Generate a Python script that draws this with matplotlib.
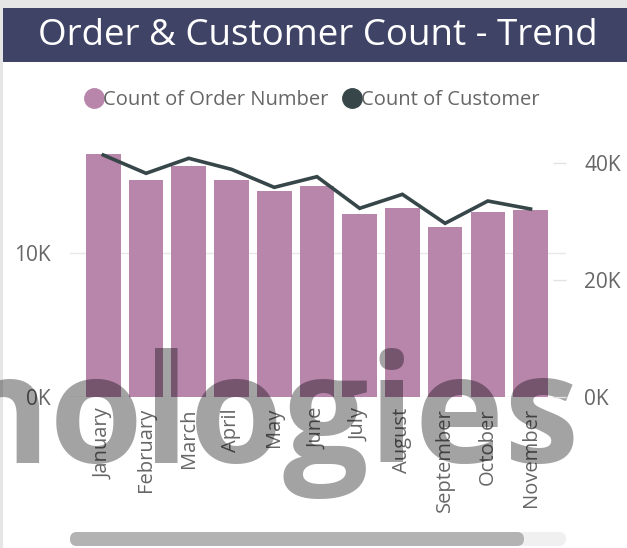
import matplotlib
matplotlib.use("Agg")
import matplotlib.pyplot as plt
from matplotlib.lines import Line2D
from matplotlib.patches import Rectangle, FancyBboxPatch
from matplotlib.transforms import IdentityTransform

months = ["January", "February", "March", "April", "May", "June", "July",
          "August", "September", "October", "November"]
order_counts = [16880, 15050, 16020, 15050, 14330, 14670, 12730, 13100, 11780, 12870, 12990]
customer_counts = [41420, 38290, 40860, 38970, 35890, 37710, 32300, 34690, 29730, 33550, 32180]
left_ticks = [0, 10000]
left_labels = ["0K", "10K"]
right_ticks = [0, 20000, 40000]
right_labels = ["0K", "20K", "40K"]

title = "Order & Customer Count - Trend"
series_names = ["Count of Order Number", "Count of Customer"]

BAR = "#b886ab"
LINE = "#374649"
TXT = "#666666"
FONT = "Open Sans"

plt.rcParams["font.family"] = [FONT, "DejaVu Sans"]

W, H = 627, 548
fig = plt.figure(figsize=(W / 100, H / 100), dpi=100)
fig.patch.set_facecolor("white")

# frame: gray strips, title bar
fig.add_artist(Rectangle((0, 1 - 8 / H), 1, 8 / H, transform=fig.transFigure,
                         facecolor="#e6e6e6", edgecolor="none", zorder=0))
fig.add_artist(Rectangle((0, 0), 3 / W, 1, transform=fig.transFigure,
                         facecolor="#e6e6e6", edgecolor="none", zorder=0))
fig.add_artist(Rectangle((3 / W, 1 - 62 / H), 1, 54 / H, transform=fig.transFigure,
                         facecolor="#3f4466", edgecolor="none", zorder=1))
fig.text(318 / W, 1 - 36 / H, title, color="white", fontsize=26.5,
         ha="center", va="center", zorder=2)

# axes
ax = fig.add_axes([70 / W, 151 / H, 496 / W, 247 / H])
ax.set_facecolor("none")
x = list(range(len(months)))
ax.bar(x, order_counts, width=0.81, color=BAR, zorder=1)
ax.set_xlim(-0.78, 10.83)
ax.set_ylim(0, 17150)
ax.set_yticks(left_ticks)
ax.set_yticklabels(left_labels)
ax.yaxis.grid(True, color="#e8e8e8", linewidth=1)
ax.set_axisbelow(True)
ax.set_xticks(x)
ax.set_xticklabels(months, rotation=90, va="top", ha="center")
ax.tick_params(axis="x", length=0, pad=8, labelsize=14.5, labelcolor=TXT)
ax.tick_params(axis="y", length=0, pad=14, labelsize=15, labelcolor=TXT)
for s in ax.spines.values():
    s.set_visible(False)

ax2 = ax.twinx()
ax2.plot(x, customer_counts, color=LINE, linewidth=2.6, solid_joinstyle="miter", zorder=3)
ax2.set_ylim(0, 42280)
ax2.set_yticks(right_ticks)
ax2.set_yticklabels(right_labels)
ax2.tick_params(axis="y", direction="in", length=9.4, width=1, color="#e3e3e3",
                pad=13, labelsize=15, labelcolor=TXT)
for s in ax2.spines.values():
    s.set_visible(False)

# watermark (above bars, below tick labels)
ax.text(579, H - 463, "nologies", transform=IdentityTransform(), fontsize=109,
        fontweight="bold", color="black", alpha=0.36, ha="right", va="baseline",
        clip_on=False, zorder=2.4)

# legend
handles = [Line2D([], [], marker="o", linestyle="", markersize=14, color=BAR),
           Line2D([], [], marker="o", linestyle="", markersize=14, color=LINE)]
fig.legend(handles, series_names, loc="center", bbox_to_anchor=(312 / W, 1 - 100 / H),
           ncol=2, frameon=False, handlelength=0.9, handletextpad=0.0,
           columnspacing=0.7, fontsize=14.5, labelcolor=TXT)

# scrollbar
fig.add_artist(FancyBboxPatch((70, H - 546), 496, 14, transform=IdentityTransform(),
                              boxstyle="round,pad=0,rounding_size=7",
                              facecolor="#f0f0f0", edgecolor="none"))
fig.add_artist(FancyBboxPatch((70, H - 546), 454, 14, transform=IdentityTransform(),
                              boxstyle="round,pad=0,rounding_size=7",
                              facecolor="#b3b3b3", edgecolor="none"))

fig.savefig("out.png", dpi=100)
